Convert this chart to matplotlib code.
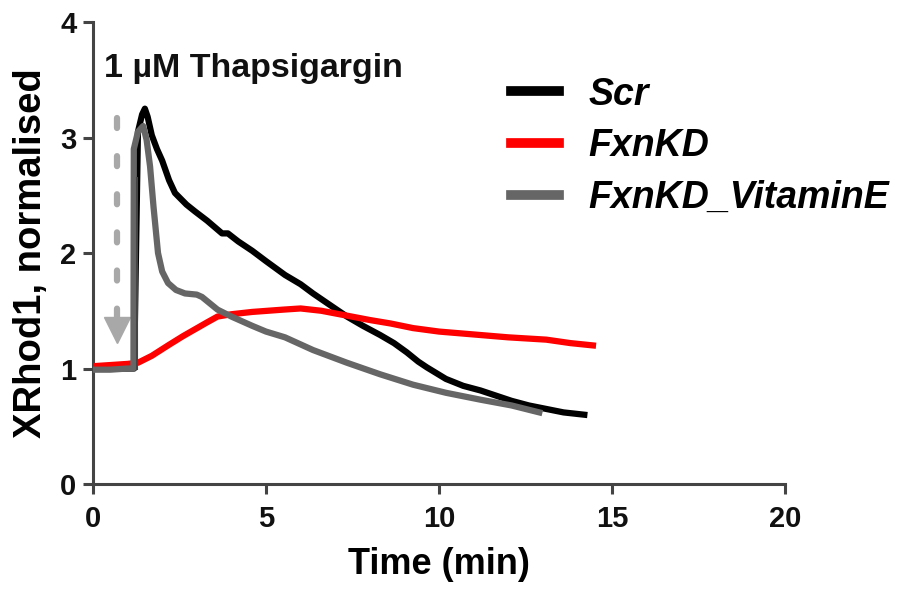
import matplotlib

matplotlib.use("Agg")
import matplotlib.pyplot as plt

plt.rcParams["font.family"] = ["Liberation Sans", "DejaVu Sans"]
plt.rcParams["font.weight"] = "bold"

# Scr trace
scr_t = [0, 0.5, 1.0, 1.19, 1.3, 1.42, 1.5, 1.58, 1.7, 1.85, 2.0, 2.2, 2.37, 2.7, 2.95, 3.3,
         3.73, 3.9, 4.2, 4.6, 5.0, 5.55, 6.0, 6.36, 6.8, 7.34, 7.8, 8.3, 8.7, 9.07,
         9.4, 9.65, 10.2, 10.7, 11.2, 11.7, 12.1, 12.6, 13.1, 13.6, 14.2]
scr_y = [1.0, 1.0, 1.0, 1.0, 3.05, 3.2, 3.25, 3.18, 3.02, 2.9, 2.8, 2.63, 2.52, 2.42, 2.36, 2.28,
         2.17, 2.17, 2.1, 2.02, 1.93, 1.81, 1.73, 1.65, 1.56, 1.45, 1.37, 1.29, 1.22, 1.14,
         1.06, 1.01, 0.91, 0.85, 0.81, 0.76, 0.72, 0.68, 0.65, 0.62, 0.6]

# FxnKD trace
kd_t = [0, 0.5, 1.0, 1.3, 1.7, 2.17, 2.6, 2.95, 3.3, 3.6, 4.0, 4.6, 5.5, 6.0, 6.6,
        7.3, 8.0, 8.6, 9.25, 10.0, 11.2, 12.0, 13.1, 13.8, 14.45]
kd_y = [1.02, 1.03, 1.04, 1.05, 1.11, 1.2, 1.28, 1.34, 1.4, 1.45, 1.47, 1.49, 1.51, 1.52, 1.5,
        1.46, 1.42, 1.39, 1.35, 1.32, 1.29, 1.27, 1.25, 1.22, 1.2]

# FxnKD_VitaminE trace
vit_t = [0, 0.5, 1.0, 1.17, 1.18, 1.3, 1.45, 1.55, 1.65, 1.75, 1.88, 2.0, 2.17, 2.4, 2.66, 3.0,
         3.15, 3.6, 4.0, 4.6, 5.0, 5.55, 6.36, 7.34, 8.3, 9.25, 10.2, 11.2, 12.1, 12.9]
vit_y = [0.99, 0.99, 1.0, 1.0, 2.9, 3.05, 3.1, 2.98, 2.75, 2.4, 2.0, 1.84, 1.74, 1.68, 1.65, 1.64,
         1.62, 1.51, 1.45, 1.37, 1.32, 1.27, 1.16, 1.05, 0.95, 0.86, 0.79, 0.73, 0.68, 0.62]

# thin rise line and the drug addition arrow
rise_t = [1.28, 1.28]
rise_y = [1.0, 2.65]
drug_t = 0.69
drug_y = [3.17, 1.42]
drug_tip = 1.33

x_ticks = [0, 5, 10, 15, 20]
y_ticks = [0, 1, 2, 3, 4]

fig = plt.figure(figsize=(9, 5.93), dpi=100)
ax = fig.add_axes([0.1033, 0.1838, 0.7689, 0.779])

ax.plot(drug_t, drug_tip, marker="v", markersize=19, color="#a8a8a8",
        linestyle="none", zorder=1)
ax.plot([drug_t, drug_t], drug_y, color="#a8a8a8", linewidth=4.5,
        dashes=(1.6, 4.5), dash_capstyle="round", zorder=1)

ax.plot(scr_t, scr_y, color="black", linewidth=4.5, label="Scr", zorder=2)
ax.plot(kd_t, kd_y, color="#ff0000", linewidth=4.5, label="FxnKD", zorder=3)
ax.plot(vit_t, vit_y, color="#666666", linewidth=4.5, label="FxnKD_VitaminE", zorder=4)
ax.plot(rise_t, rise_y, color="#444444", linewidth=1.5, zorder=5)

ax.text(0.33, 3.6, "1 \u00b5M Thapsigargin", fontsize=24.5, fontweight="bold",
        ha="left", va="center", color="#111111")

ax.set_xlim(0, 20)
ax.set_ylim(0, 4)
ax.set_xticks(x_ticks)
ax.set_yticks(y_ticks)
ax.tick_params(direction="out", length=7, width=2.2, colors="#444444",
               labelsize=21, labelcolor="#111111")
ax.tick_params(axis="x", pad=8)
ax.tick_params(axis="y", pad=5)
for side in ("top", "right"):
    ax.spines[side].set_visible(False)
for side in ("left", "bottom"):
    ax.spines[side].set_linewidth(2.2)
    ax.spines[side].set_color("#444444")

ax.set_xlabel("Time (min)", fontsize=26, fontweight="bold", labelpad=10)
ax.set_ylabel("XRhod1, normalised", fontsize=27.5, fontweight="bold", labelpad=8)

leg = ax.legend(loc="upper left", bbox_to_anchor=(0.555, 0.955), frameon=False,
                prop={"size": 27, "weight": "bold", "style": "italic"},
                handlelength=1.28, handletextpad=0.8, labelspacing=0.42)
for line in leg.get_lines():
    line.set_linewidth(7)

fig.savefig("out.png")
